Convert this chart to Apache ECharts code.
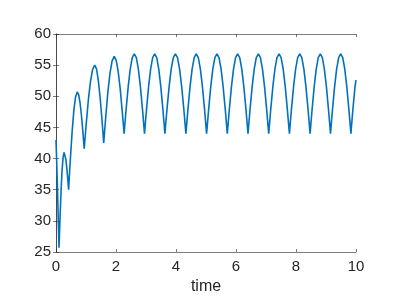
<!DOCTYPE html>
<html><head><meta charset="utf-8">
<script src="https://cdn.jsdelivr.net/npm/echarts@6/dist/echarts.min.js"></script>
<style>html,body{margin:0;padding:0;background:#fff}#c{width:399px;height:308px}</style>
</head><body><div id="c"></div>
<script>
const xTicks = [0, 2, 4, 6, 8, 10];
const yTicks = [25, 30, 35, 40, 45, 50, 55, 60];
const time = [
0, 0.02, 0.05, 0.08, 0.1, 0.114, 0.134, 0.168, 0.202, 0.236, 0.27, 0.30, 0.33, 0.36, 0.39, 0.408, 0.42,
0.443, 0.478, 0.536, 0.594, 0.652, 0.71, 0.756, 0.802, 0.848, 0.894, 0.922, 0.94,
0.968, 1.01, 1.08, 1.15, 1.22, 1.29, 1.35, 1.41, 1.47, 1.53, 1.566, 1.59,
1.618, 1.66, 1.73, 1.80, 1.87, 1.94, 2.006, 2.072, 2.138, 2.204, 2.244, 2.27,
2.297, 2.338, 2.406, 2.474, 2.542, 2.61, 2.678, 2.746, 2.814, 2.882, 2.923, 2.95,
2.977, 3.018, 3.086, 3.154, 3.222, 3.29, 3.358, 3.426, 3.494, 3.562, 3.603, 3.63,
3.658, 3.70, 3.77, 3.84, 3.91, 3.98, 4.05, 4.12, 4.19, 4.26, 4.302, 4.33,
4.358, 4.399, 4.468, 4.537, 4.606, 4.675, 4.744, 4.813, 4.882, 4.951, 4.992, 5.02,
5.048, 5.089, 5.158, 5.227, 5.296, 5.365, 5.434, 5.503, 5.572, 5.641, 5.682, 5.71,
5.738, 5.779, 5.848, 5.917, 5.986, 6.055, 6.124, 6.193, 6.262, 6.331, 6.372, 6.40,
6.428, 6.469, 6.538, 6.607, 6.676, 6.745, 6.814, 6.883, 6.952, 7.021, 7.062, 7.09,
7.118, 7.159, 7.228, 7.297, 7.366, 7.435, 7.504, 7.573, 7.642, 7.711, 7.752, 7.78,
7.808, 7.849, 7.918, 7.987, 8.056, 8.125, 8.194, 8.263, 8.332, 8.401, 8.442, 8.47,
8.497, 8.538, 8.606, 8.674, 8.742, 8.81, 8.878, 8.946, 9.014, 9.082, 9.123, 9.15,
9.177, 9.218, 9.286, 9.354, 9.422, 9.49, 9.558, 9.626, 9.694, 9.762, 9.803, 9.83,
9.857, 9.898, 9.966, 10
];
const value = [
43, 40, 35, 29.5, 25.7, 27.6, 30.4, 34.7, 38.1, 40.2, 41.0, 40.7, 39.85, 38.5, 36.85, 35.75, 35,
37.0, 39.85, 44.2, 47.7, 49.9, 50.7, 50.25, 48.96, 46.95, 44.4, 42.7, 41.6,
43.3, 45.7, 49.5, 52.4, 54.3, 55.0, 54.4, 52.6, 49.85, 46.4, 44.1, 42.5,
44.2, 46.8, 50.7, 53.7, 55.7, 56.4, 55.8, 54.0, 51.3, 47.8, 45.55, 44.0,
45.6, 47.95, 51.5, 54.35, 56.2, 56.8, 56.2, 54.35, 51.5, 47.95, 45.6, 44.0,
45.6, 47.95, 51.5, 54.35, 56.2, 56.8, 56.2, 54.35, 51.5, 47.95, 45.6, 44.0,
45.6, 47.95, 51.5, 54.35, 56.2, 56.8, 56.2, 54.35, 51.5, 47.95, 45.6, 44.0,
45.6, 47.95, 51.5, 54.35, 56.2, 56.8, 56.2, 54.35, 51.5, 47.95, 45.6, 44.0,
45.6, 47.95, 51.5, 54.35, 56.2, 56.8, 56.2, 54.35, 51.5, 47.95, 45.6, 44.0,
45.6, 47.95, 51.5, 54.35, 56.2, 56.8, 56.2, 54.35, 51.5, 47.95, 45.6, 44.0,
45.6, 47.95, 51.5, 54.35, 56.2, 56.8, 56.2, 54.35, 51.5, 47.95, 45.6, 44.0,
45.6, 47.95, 51.5, 54.35, 56.2, 56.8, 56.2, 54.35, 51.5, 47.95, 45.6, 44.0,
45.6, 47.95, 51.5, 54.35, 56.2, 56.8, 56.2, 54.35, 51.5, 47.95, 45.6, 44.0,
45.6, 47.95, 51.5, 54.35, 56.2, 56.8, 56.2, 54.35, 51.5, 47.95, 45.6, 44.0,
45.6, 47.95, 51.5, 54.35, 56.2, 56.8, 56.2, 54.35, 51.5, 47.95, 45.6, 44.0,
45.6, 47.95, 51.5, 52.6
];
const xLabel = 'time';

const axisColor = '#262626';
const font = 'Liberation Sans, Arial, Helvetica, sans-serif';
const chart = echarts.init(document.getElementById('c'), null, {renderer: 'canvas'});
const baseX = {
  type: 'value', min: xTicks[0], max: xTicks[xTicks.length - 1], interval: xTicks[1] - xTicks[0],
  axisLine: {show: true, lineStyle: {color: axisColor, width: 0.6}},
  axisTick: {show: true, inside: true, length: 3, lineStyle: {color: axisColor, width: 0.6}},
  splitLine: {show: false}
};
const baseY = {
  type: 'value', min: yTicks[0], max: yTicks[yTicks.length - 1], interval: yTicks[1] - yTicks[0],
  axisLine: {show: true, lineStyle: {color: axisColor, width: 0.6}},
  axisTick: {show: true, inside: true, length: 3, lineStyle: {color: axisColor, width: 0.6}},
  splitLine: {show: false}
};
chart.setOption({
  backgroundColor: '#fff',
  animation: false,
  grid: {left: 56, right: 43, top: 34, bottom: 56},
  xAxis: [
    Object.assign({}, baseX, {position: 'bottom', name: xLabel, nameLocation: 'middle', nameGap: 25,
      nameTextStyle: {color: axisColor, fontSize: 16, fontFamily: font},
      axisLabel: {color: axisColor, fontSize: 15, fontFamily: font, margin: 7}}),
    Object.assign({}, baseX, {position: 'top', axisLabel: {show: false}})
  ],
  yAxis: [
    Object.assign({}, baseY, {position: 'left',
      axisLabel: {color: axisColor, fontSize: 15, fontFamily: font, margin: 5}}),
    Object.assign({}, baseY, {position: 'right', axisLabel: {show: false}})
  ],
  series: [{
    type: 'line', xAxisIndex: 0, yAxisIndex: 0, showSymbol: false, symbol: 'none',
    lineStyle: {color: '#0072BD', width: 1.6},
    data: time.map((t, i) => [t, value[i]])
  }]
});
</script></body></html>
